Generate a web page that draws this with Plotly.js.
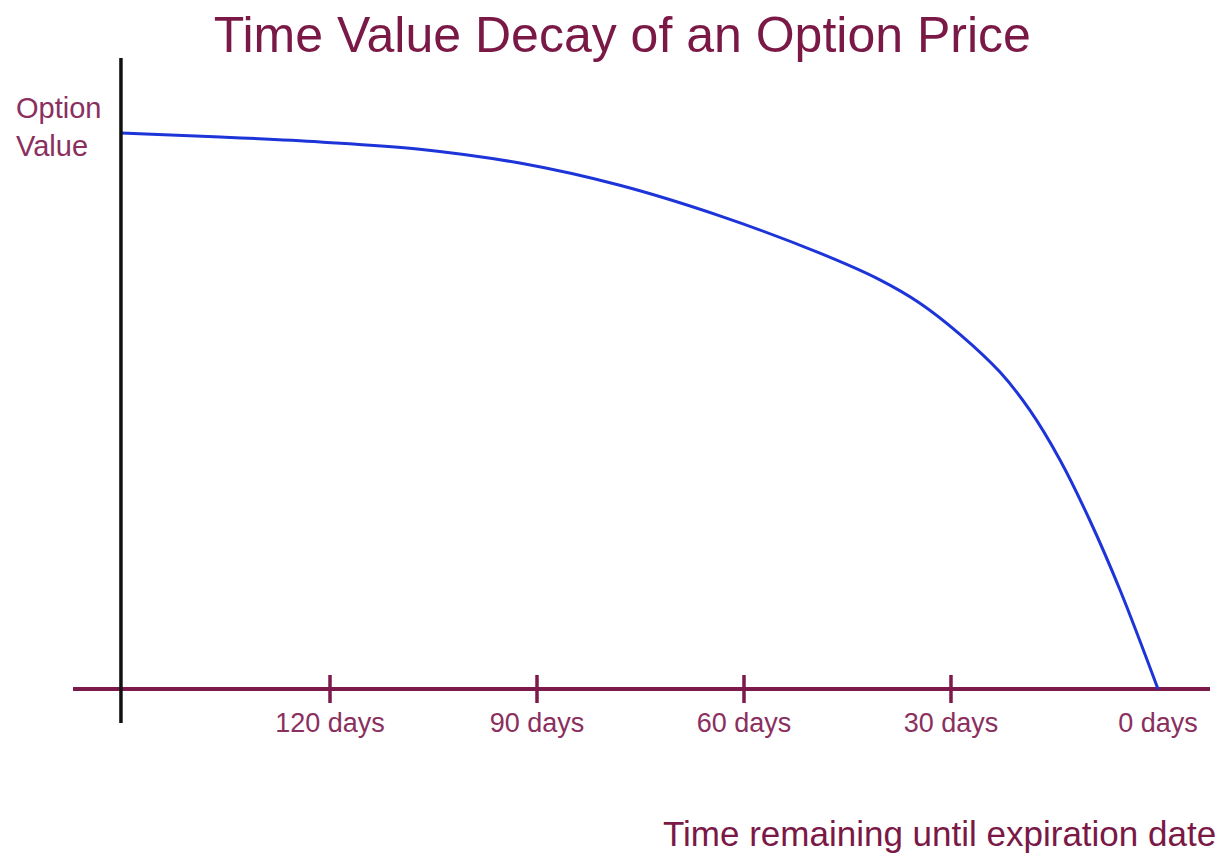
<!DOCTYPE html>
<html>
<head>
<meta charset="utf-8">
<script src="https://cdn.plot.ly/plotly-3.0.1.min.js"></script>
<style>html,body{margin:0;padding:0;background:#fff;}#chart{width:1225px;height:853px;}</style>
</head>
<body>
<div id="chart"></div>
<script>
// Days remaining until expiration (x) and option value (relative units, y)
var daysRemaining = [150.3, 135.9, 121.4, 107.0, 92.5, 78.0, 63.5, 49.0, 40.3, 34.5, 28.7, 22.9, 18.6, 14.2, 9.9, 5.5, 0];
var optionValue   = [100.0, 99.3, 98.4, 97.1, 94.6, 90.6, 85.1, 78.4, 73.6, 69.4, 63.8, 57.0, 50.2, 41.2, 30.4, 17.8, 0];

var tickDays   = [120, 90, 60, 30];
var labelDays  = [120, 90, 60, 30, 0];
var labelTexts = ["120 days", "90 days", "60 days", "30 days", "0 days"];

var maroon = "#7b1a4b";
var labelColor = "#8a2f5e";
var FONT = "Arial, 'Liberation Sans', sans-serif";

var curve = {
  x: daysRemaining, y: optionValue,
  mode: "lines", type: "scatter",
  line: {color: "#1d34d8", width: 3, shape: "spline", smoothing: 1},
  hoverinfo: "skip", cliponaxis: false
};

var ticks = {
  x: tickDays, y: tickDays.map(function(){return 0;}),
  mode: "markers", type: "scatter",
  marker: {symbol: "line-ns", size: 20, line: {color: maroon, width: 3.5}},
  hoverinfo: "skip", cliponaxis: false
};

var labels = {
  x: labelDays, y: labelDays.map(function(){return -6.6;}),
  text: labelTexts,
  mode: "text", type: "scatter",
  textposition: "middle center",
  textfont: {family: FONT, size: 27, color: labelColor},
  hoverinfo: "skip", cliponaxis: false
};

var layout = {
  width: 1225, height: 853,
  margin: {l: 73, r: 15, t: 58, b: 93},
  paper_bgcolor: "#ffffff", plot_bgcolor: "#ffffff",
  showlegend: false,
  title: {
    text: "Time Value Decay of an Option Price",
    x: 0.508, xanchor: "center", xref: "container",
    y: 0.96, yanchor: "middle", yref: "container",
    font: {family: FONT, size: 50, color: "#7a1846"}
  },
  xaxis: {
    range: [157.25, -7.54],
    showgrid: false, zeroline: false, showline: false,
    showticklabels: false, ticks: "", fixedrange: true
  },
  yaxis: {
    range: [-12.77, 113.5],
    showgrid: false, showticklabels: false, ticks: "", showline: false,
    zeroline: true, zerolinecolor: maroon, zerolinewidth: 4, fixedrange: true
  },
  shapes: [{
    type: "line", xref: "x", yref: "y",
    x0: 150.3, x1: 150.3, y0: -6.12, y1: 113.5,
    line: {color: "#111111", width: 3.5}, layer: "above"
  }],
  annotations: [
    {
      text: "Option<br>Value", xref: "paper", yref: "paper",
      x: -0.052, y: 0.902, xanchor: "left", yanchor: "middle", align: "left",
      showarrow: false,
      font: {family: FONT, size: 29, color: labelColor}
    },
    {
      text: "Time remaining until expiration date", xref: "paper", yref: "paper",
      x: 1.007, y: -0.105, xanchor: "right", yanchor: "middle",
      showarrow: false,
      font: {family: FONT, size: 35, color: "#7a1846"}
    }
  ]
};

Plotly.newPlot("chart", [curve, ticks, labels], layout, {displayModeBar: false, staticPlot: true});
</script>
</body>
</html>
